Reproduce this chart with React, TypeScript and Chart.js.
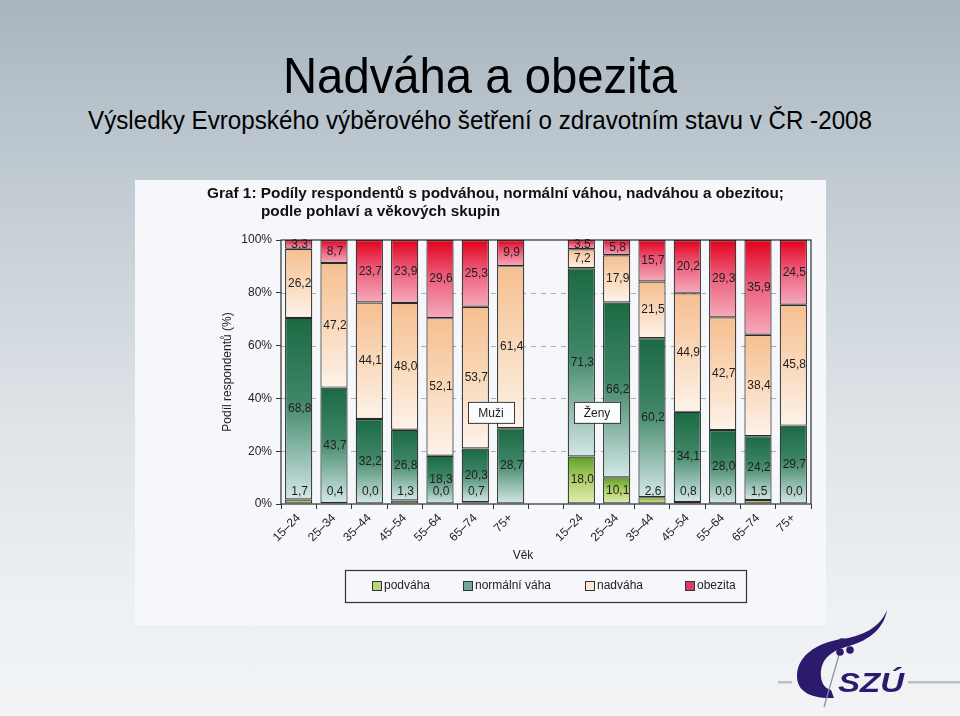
import React, { useEffect, useRef } from 'react';
import { Chart, registerables } from 'chart.js';

Chart.register(...registerables);

const categories = ['15–24', '25–34', '35–44', '45–54', '55–64', '65–74', '75+', '', '15–24', '25–34', '35–44', '45–54', '55–64', '65–74', '75+'];
const seriesNames = ['podváha', 'normální váha', 'nadváha', 'obezita'];
const podvaha = [1.7, 0.4, 0.0, 1.3, 0.0, 0.7, null, null, 18.0, 10.1, 2.6, 0.8, 0.0, 1.5, 0.0];
const normalniVaha = [68.8, 43.7, 32.2, 26.8, 18.3, 20.3, 28.7, null, 71.3, 66.2, 60.2, 34.1, 28.0, 24.2, 29.7];
const nadvaha = [26.2, 47.2, 44.1, 48.0, 52.1, 53.7, 61.4, null, 7.2, 17.9, 21.5, 44.9, 42.7, 38.4, 45.8];
const obezita = [3.3, 8.7, 23.7, 23.9, 29.6, 25.3, 9.9, null, 3.5, 5.8, 15.7, 20.2, 29.3, 35.9, 24.5];
const yTicks = [0, 20, 40, 60, 80, 100];
const groupLabels = ['Muži', 'Ženy'];
const axisTitleY = 'Podíl respondentů (%)';
const axisTitleX = 'Věk';
const chartTitle1 = 'Graf 1: Podíly respondentů s podváhou, normální váhou, nadváhou a obezitou;';
const chartTitle2 = 'podle pohlaví a věkových skupin';
const slideTitle = 'Nadváha a obezita';
const slideSubtitle = 'Výsledky Evropského výběrového šetření  o zdravotním stavu v ČR -2008';

const FONT = '"Liberation Sans", Arial, sans-serif';
const gradTop = ['#5f9e25', '#1b6943', '#f5bf90', '#e2001a'];
const gradMid = ['#a9cc62', '#3f8666', '#f9d6b6', '#ec5a78'];
const gradBottom = ['#e2eeb4', '#d4e8e8', '#fdf3ea', '#f5aabb'];
const legendColors = ['#b4d77a', '#6fa89c', '#fde8d8', '#e23b62'];

const allSeries = [podvaha, normalniVaha, nadvaha, obezita];

function segmentFill(ctx: any) {
  const di = ctx.datasetIndex;
  const chart = ctx.chart;
  if (!chart.chartArea || ctx.type !== 'data') return gradTop[di];
  const y = chart.scales.y;
  const i = ctx.dataIndex;
  let start = 0;
  for (let k = 0; k < di; k++) start += (allSeries[k][i] ?? 0);
  const v = allSeries[di][i] ?? 0;
  const y0 = y.getPixelForValue(start);
  const y1 = y.getPixelForValue(start + v);
  if (!isFinite(y0) || !isFinite(y1) || Math.abs(y0 - y1) < 0.5) return gradTop[di];
  const g = chart.ctx.createLinearGradient(0, y1, 0, y0);
  g.addColorStop(0, gradTop[di]);
  g.addColorStop(0.45, gradMid[di]);
  g.addColorStop(1, gradBottom[di]);
  return g;
}

const fmt = (v: number) => v.toFixed(1).replace('.', ',');

const decorPlugin = {
  id: 'decor',
  beforeDatasetsDraw(chart: any) {
    const { ctx, chartArea } = chart;
    const y = chart.scales.y;
    ctx.save();
    ctx.strokeStyle = '#a9acb2';
    ctx.lineWidth = 1;
    ctx.setLineDash([5, 5]);
    yTicks.forEach((t) => {
      if (t === 0 || t === 100) return;
      const py = Math.round(y.getPixelForValue(t)) + 0.5;
      ctx.beginPath();
      ctx.moveTo(chartArea.left, py);
      ctx.lineTo(chartArea.right, py);
      ctx.stroke();
    });
    ctx.restore();
  },
  afterDatasetsDraw(chart: any) {
    const { ctx, chartArea } = chart;
    const x = chart.scales.x;
    const y = chart.scales.y;
    ctx.save();
    ctx.font = '12px ' + FONT;
    ctx.fillStyle = '#1e1e1e';
    ctx.textAlign = 'center';
    ctx.textBaseline = 'middle';
    chart.data.datasets.forEach((ds: any, di: number) => {
      const meta = chart.getDatasetMeta(di);
      meta.data.forEach((el: any, i: number) => {
        const v = ds.data[i];
        if (v == null) return;
        const p = el.getProps(['x', 'y', 'base'], true);
        let cy = (p.y + p.base) / 2;
        if (di === 0) cy = Math.min(cy, p.base - 12);
        ctx.fillText(fmt(v), p.x + 1, cy);
      });
    });
    ctx.strokeStyle = '#2e2e2e';
    ctx.lineWidth = 1.2;
    ctx.strokeRect(chartArea.left, chartArea.top, chartArea.right - chartArea.left, chartArea.bottom - chartArea.top);
    const boxes = [
      { text: groupLabels[0], cx: (x.getPixelForValue(5) + x.getPixelForValue(6)) / 2 - 2, cy: y.getPixelForValue(34.7) },
      { text: groupLabels[1], cx: (x.getPixelForValue(8) + x.getPixelForValue(9)) / 2 - 2, cy: y.getPixelForValue(34.7) },
    ];
    boxes.forEach((b) => {
      const w = 46, h = 21;
      ctx.fillStyle = '#fbfcfd';
      ctx.fillRect(b.cx - w / 2, b.cy - h / 2, w, h);
      ctx.strokeStyle = '#3a3a3a';
      ctx.lineWidth = 1;
      ctx.strokeRect(b.cx - w / 2 + 0.5, b.cy - h / 2 + 0.5, w, h);
      ctx.fillStyle = '#1e1e1e';
      ctx.font = '12px ' + FONT;
      ctx.fillText(b.text, b.cx, b.cy + 1);
    });
    ctx.restore();
  },
  afterDraw(chart: any) {
    const { ctx, chartArea } = chart;
    const x = chart.scales.x;
    ctx.save();
    ctx.fillStyle = '#1e1e1e';
    ctx.font = '12px ' + FONT;
    ctx.textAlign = 'center';
    ctx.textBaseline = 'middle';
    ctx.save();
    ctx.translate(93, (chartArea.top + chartArea.bottom) / 2);
    ctx.rotate(-Math.PI / 2);
    ctx.fillText(axisTitleY, 0, 0);
    ctx.restore();
    ctx.fillText(axisTitleX, x.getPixelForValue(6.35), chartArea.bottom + 52);
    const lx = 210, ly = 390, lw = 401, lh = 32;
    ctx.strokeStyle = '#333';
    ctx.lineWidth = 1.2;
    ctx.strokeRect(lx + 0.5, ly + 0.5, lw, lh);
    const itemX = [237, 328, 450, 550];
    ctx.textAlign = 'left';
    seriesNames.forEach((name, k) => {
      const sx = itemX[k];
      ctx.fillStyle = legendColors[k];
      ctx.fillRect(sx, ly + 11, 10, 10);
      ctx.strokeStyle = '#333';
      ctx.lineWidth = 1;
      ctx.strokeRect(sx + 0.5, ly + 11.5, 9, 9);
      ctx.fillStyle = '#1e1e1e';
      ctx.fillText(name, sx + 12, ly + 16);
    });
    ctx.restore();
  },
};

function ChartBox() {
  const ref = useRef<HTMLCanvasElement>(null);
  useEffect(() => {
    if (!ref.current) return;
    const datasets = allSeries.map((d, k) => ({
      label: seriesNames[k],
      data: d,
      backgroundColor: segmentFill,
      borderColor: '#2a2a2a',
      borderWidth: 1.2,
      borderSkipped: false,
      categoryPercentage: 1,
      barPercentage: 0.77,
    }));
    const chart = new Chart(ref.current, {
      type: 'bar',
      data: { labels: categories, datasets: datasets as any },
      options: {
        responsive: false,
        animation: false,
        layout: { padding: { left: 0, top: 60, right: 15, bottom: 0 } },
        plugins: { legend: { display: false }, tooltip: { enabled: false }, title: { display: false } },
        scales: {
          x: {
            stacked: true,
            border: { display: false },
            grid: { display: true, drawOnChartArea: false, drawTicks: true, tickLength: 5, color: '#333', offset: true },
            ticks: {
              autoSkip: false,
              maxRotation: 45,
              minRotation: 45,
              padding: 2,
              color: '#1e1e1e',
              font: { size: 12, family: FONT },
            },
            afterFit: (s: any) => { s.height = 121; },
          },
          y: {
            stacked: true,
            min: 0,
            max: 100,
            border: { display: false },
            grid: { display: true, drawOnChartArea: false, drawTicks: true, tickLength: 5, color: '#333' },
            ticks: {
              stepSize: 20,
              padding: 4,
              color: '#1e1e1e',
              font: { size: 12, family: FONT },
              callback: (v: any) => v + '%',
            },
            afterFit: (s: any) => { s.width = 146; },
          },
        },
      },
      plugins: [decorPlugin],
    });
    return () => chart.destroy();
  }, []);
  return <canvas ref={ref} width={691} height={445} style={{ display: 'block', width: 691, height: 445 }} />;
}

function Logo() {
  const navy = '#2c1a6f';
  return (
    <svg width={960} height={716} style={{ position: 'absolute', left: 0, top: 0, pointerEvents: 'none' }}>
      <rect x={778} y={681} width={14} height={2.5} fill="#b9c0c7" />
      <rect x={908} y={681} width={52} height={2.5} fill="#b9c0c7" />
      <path d="M 887 610 C 880 628, 862 636, 842 639 C 815 643, 797 657, 797 676 C 797 691, 810 699, 834 698 L 831 690 C 823 688, 820 680, 821 670 C 823 657, 833 650, 849 646 C 870 640, 884 628, 887 610 Z" fill={navy} />
      <line x1={839} y1={655} x2={824} y2={707} stroke="#8a86a8" strokeWidth={1.2} />
      <circle cx={842} cy={642} r={3.8} fill={navy} />
      <circle cx={850} cy={650} r={3.8} fill={navy} />
      <circle cx={840} cy={652} r={3.8} fill={navy} />
      <text x={838} y={692} fontFamily={FONT} fontSize={27} fontWeight="bold" fontStyle="italic" fill={navy} textLength={66} lengthAdjust="spacingAndGlyphs">SZÚ</text>
    </svg>
  );
}

export default function App() {
  return (
    <div style={{ position: 'absolute', left: 0, top: 0, width: 960, height: 716, overflow: 'hidden', background: 'linear-gradient(180deg, #a8b5bf 0%, #c4cdd4 28%, #dfe4e8 60%, #eef1f3 85%, #f1f3f5 100%)' }}>
      <svg width={960} height={180} style={{ position: 'absolute', left: 0, top: 0 }}>
        <text x={283} y={93} fontFamily={FONT} fontSize={50} fill="#000" textLength={394} lengthAdjust="spacingAndGlyphs">{slideTitle}</text>
        <text x={88} y={129} fontFamily={FONT} fontSize={26} fill="#000" textLength={784} lengthAdjust="spacingAndGlyphs">{slideSubtitle}</text>
      </svg>
      <div style={{ position: 'absolute', left: 135, top: 180, width: 691, height: 445, background: '#f5f7fb' }}>
        <ChartBox />
        <svg width={691} height={60} style={{ position: 'absolute', left: 0, top: 0 }}>
          <text x={72} y={18} fontFamily={FONT} fontSize={15} fontWeight="bold" fill="#111" textLength={577} lengthAdjust="spacingAndGlyphs">{chartTitle1}</text>
          <text x={126} y={36} fontFamily={FONT} fontSize={15} fontWeight="bold" fill="#111" textLength={239} lengthAdjust="spacingAndGlyphs">{chartTitle2}</text>
        </svg>
      </div>
      <Logo />
    </div>
  );
}
